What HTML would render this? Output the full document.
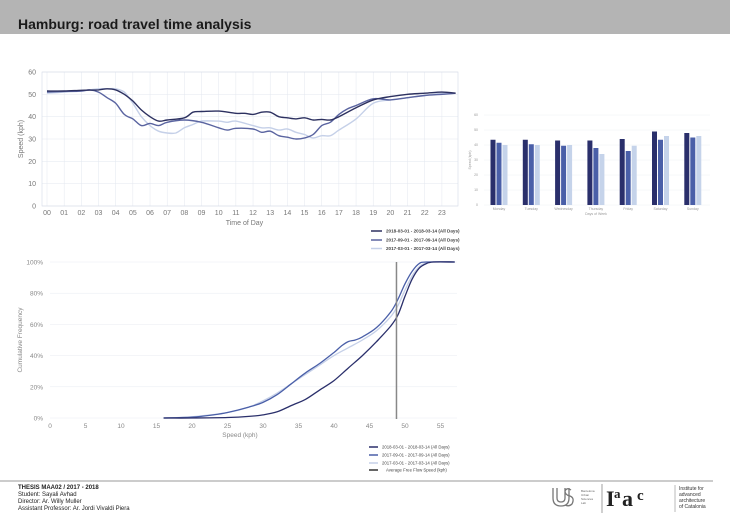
<!DOCTYPE html>
<html><head><meta charset="utf-8"><style>
html,body{margin:0;padding:0;background:#fff;}
svg{display:block;font-family:"Liberation Sans",sans-serif;}
</style></head><body>
<svg id="s" width="730" height="516" viewBox="0 0 730 516" xmlns="http://www.w3.org/2000/svg">
<rect x="0" y="0" width="730" height="34" fill="#b4b4b4"/>
<text x="18" y="29" font-size="14" font-weight="bold" fill="#1a1a1a">Hamburg: road travel time analysis</text>
<g id="top"></g>
<g id="bar"></g>
<g id="cum"></g>
<!-- top legend -->
<g font-size="4.6" font-weight="bold" fill="#444">
<line x1="371" y1="231" x2="382" y2="231" stroke="#2d3160" stroke-width="1.5"/><text x="386" y="232.5">2018-03-01 - 2018-03-14 (All Days)</text>
<line x1="371" y1="240" x2="382" y2="240" stroke="#5a64a0" stroke-width="1.5"/><text x="386" y="241.5">2017-09-01 - 2017-09-14 (All Days)</text>
<line x1="371" y1="248.5" x2="382" y2="248.5" stroke="#c5d0e8" stroke-width="1.5"/><text x="386" y="250">2017-03-01 - 2017-03-14 (All Days)</text>
</g>
<!-- bottom legend -->
<g font-size="4.3" fill="#444">
<line x1="369" y1="447" x2="378" y2="447" stroke="#2a2f6b" stroke-width="1.5"/><text x="382" y="448.5">2018-03-01 - 2018-03-14 (All Days)</text>
<line x1="369" y1="455" x2="378" y2="455" stroke="#4a5fa8" stroke-width="1.5"/><text x="382" y="456.5">2017-09-01 - 2017-09-14 (All Days)</text>
<line x1="369" y1="463" x2="378" y2="463" stroke="#c5d0e8" stroke-width="1.5"/><text x="382" y="464.5">2017-03-01 - 2017-03-14 (All Days)</text>
<line x1="369" y1="470" x2="378" y2="470" stroke="#333" stroke-width="1.5"/><text x="386" y="471.5">Average Free Flow Speed (kph)</text>
</g>
<line x1="0" y1="481" x2="713" y2="481" stroke="#999" stroke-width="1"/>
<g font-size="6" fill="#222">
<text x="18" y="489" font-weight="bold">THESIS MAA02 / 2017 - 2018</text>
<text x="18" y="496">Student: Sayali Avhad</text>
<text x="18" y="503">Director: Ar. Willy Muller</text>
<text x="18" y="510">Assistant Professor: Ar. Jordi Vivaldi Piera</text>
</g>
<!-- logos -->
<g>
<path d="M553 488 v10 q0 8 8 8 q8 0 8 -8 v-10 M557 488 v10 q0 4 4 4 q4 0 4 -4 v-10 M571 490 q-4 -3 -6 1 q0 4 5 5 q5 2 2 8 q-3 3 -7 1" fill="none" stroke="#777" stroke-width="1.3"/>
<g font-size="3" fill="#666"><text x="581" y="492">Barcelona</text><text x="581" y="496">Urban</text><text x="581" y="500">Sciences</text><text x="581" y="504">Lab</text></g>
<line x1="602" y1="484" x2="602" y2="513" stroke="#777" stroke-width="0.7"/>
<text x="606" y="506" font-family="Liberation Serif,serif" font-size="22" font-weight="bold" fill="#222">I</text>
<text x="614" y="498" font-family="Liberation Serif,serif" font-size="13" font-weight="bold" fill="#222">a</text>
<text x="622" y="506" font-family="Liberation Serif,serif" font-size="22" font-weight="bold" fill="#222">a</text>
<text x="637" y="500" font-family="Liberation Serif,serif" font-size="15" font-weight="bold" fill="#222">c</text>
<line x1="675" y1="485" x2="675" y2="512" stroke="#777" stroke-width="0.5"/>
<g font-size="5" fill="#333"><text x="679" y="490">Institute for</text><text x="679" y="496">advanced</text><text x="679" y="502">architecture</text><text x="679" y="508">of Catalonia</text></g>
</g>
</svg>
<script>
const NS="http://www.w3.org/2000/svg";
function el(p,t,a,txt){const e=document.createElementNS(NS,t);for(const k in a)e.setAttribute(k,a[k]);if(txt!==undefined)e.textContent=txt;p.appendChild(e);return e;}
function smooth(pts){let d="M"+pts[0][0].toFixed(1)+" "+pts[0][1].toFixed(1);for(let i=0;i<pts.length-1;i++){const p0=pts[Math.max(0,i-1)],p1=pts[i],p2=pts[i+1],p3=pts[Math.min(pts.length-1,i+2)];const c1=[p1[0]+(p2[0]-p0[0])/6,p1[1]+(p2[1]-p0[1])/6],c2=[p2[0]-(p3[0]-p1[0])/6,p2[1]-(p3[1]-p1[1])/6];d+=" C"+c1[0].toFixed(1)+" "+c1[1].toFixed(1)+" "+c2[0].toFixed(1)+" "+c2[1].toFixed(1)+" "+p2[0].toFixed(1)+" "+p2[1].toFixed(1);}return d;}
// TOP
const T=document.getElementById("top");
const tx=h=>47+17.17*h, ty=v=>206-v*2.233;
for(let h=0;h<=23;h++){el(T,"line",{x1:tx(h),y1:72,x2:tx(h),y2:206,stroke:"#e3e7ef","stroke-width":0.5});el(T,"text",{x:tx(h),y:215,"font-size":7,fill:"#777","text-anchor":"middle"},(h<10?"0":"")+h);}
for(let v=0;v<=60;v+=10){el(T,"line",{x1:42,y1:ty(v),x2:458,y2:ty(v),stroke:"#e3e7ef","stroke-width":0.5});el(T,"text",{x:36,y:ty(v)+2.5,"font-size":7,fill:"#777","text-anchor":"end"},v);}
el(T,"rect",{x:42,y:72,width:416,height:134,fill:"none",stroke:"#d5dbe8","stroke-width":0.6});
el(T,"text",{x:tx(11.5),y:225,"font-size":7,fill:"#777","text-anchor":"middle"},"Time of Day");
el(T,"text",{x:0,y:0,"font-size":7,fill:"#777","text-anchor":"middle",transform:"translate(23,139) rotate(-90)"},"Speed (kph)");
const L=[[0,50.5],[1,51],[2,51.5],[3,52.5],[3.5,52.5],[4,52.5],[4.5,51],[5,46],[5.5,40],[6,36],[6.5,33.5],[7,32.7],[7.5,32.7],[8,35],[8.5,36.5],[9,38],[10,38],[10.5,37.5],[11,38],[12,36],[12.5,35],[13,35],[13.5,34],[14,34.5],[14.5,33],[15,32],[15.5,30.5],[16,31.5],[16.5,31.5],[17,34],[18,39],[19,46],[20,47.5],[21,48.5],[22,49.5],[23,50.5],[23.8,50.5]];
const M=[[0,51],[1,51.3],[2,51.5],[2.5,52],[3,51],[3.5,48.5],[4,46],[4.5,41],[5,39],[5.5,36],[6,37],[6.5,36],[7,37.5],[8,38.5],[9,37.5],[10,35],[10.5,34],[11,34.8],[12,34.5],[12.5,33],[13,33.5],[13.5,31.5],[14,30.8],[14.5,30],[15,30.5],[15.5,32],[16,36],[16.5,37.5],[17,41],[17.5,43.5],[18,45],[19,48],[20,47.5],[21,48.5],[22,49.5],[23,50],[23.8,50.5]];
const D=[[0,51.5],[1,51.5],[2,51.8],[3,52],[3.5,52.5],[4,52],[4.5,50],[5,47],[5.5,43],[6,40],[6.5,38],[7,38.5],[8,39.5],[8.5,42],[9,42.3],[10,42.5],[11,41.5],[11.5,41.5],[12,41],[12.5,42],[13,42],[13.5,40],[14,39.5],[14.5,39],[15,39.5],[15.5,38.5],[16,38.8],[16.5,38.5],[17,40],[18,44],[19,47.5],[20,49],[21,50],[22,50.5],[23,51],[23.8,50.5]];
[[L,"#c5d0e8"],[M,"#5a64a0"],[D,"#2d3160"]].forEach(([s,c])=>el(T,"path",{d:smooth(s.map(p=>[tx(p[0]),ty(p[1])])),fill:"none",stroke:c,"stroke-width":1.4}));
// BAR
const B=document.getElementById("bar");
const by=v=>205-v*1.5;
for(let v=0;v<=60;v+=10){el(B,"line",{x1:484,y1:by(v),x2:710,y2:by(v),stroke:"#eef0f5","stroke-width":0.5});el(B,"text",{x:478,y:by(v)+1.2,"font-size":3.5,fill:"#999","text-anchor":"end"},v);}
el(B,"text",{x:0,y:0,"font-size":3.5,fill:"#999","text-anchor":"middle",transform:"translate(471,160) rotate(-90)"},"Speed (kph)");
const days=["Monday","Tuesday","Wednesday","Thursday","Friday","Saturday","Sunday"];
const vals=[[43.5,41.5,40],[43.5,40.5,40],[43,39.5,40],[43,38,34],[44,36,39.5],[49,43.5,46],[48,45,46]];
const bc=["#2a2f6b","#4a5fa8","#c5d3ea"];
days.forEach((d,i)=>{const cx=499+32.3*i;vals[i].forEach((v,j)=>el(B,"rect",{x:cx-8.5+j*6,y:by(v),width:5,height:v*1.5,fill:bc[j]}));el(B,"text",{x:cx,y:210,"font-size":3.5,fill:"#999","text-anchor":"middle"},d);});
el(B,"text",{x:596,y:215,"font-size":3.5,fill:"#999","text-anchor":"middle"},"Days of Week");
// CUM
const C=document.getElementById("cum");
const cx=v=>50+v*7.1, cy=p=>418-p*1.56;
for(let p=0;p<=100;p+=20){el(C,"line",{x1:50,y1:cy(p),x2:457,y2:cy(p),stroke:"#e8ebf2","stroke-width":0.5});el(C,"text",{x:43,y:cy(p)+2.5,"font-size":6.5,fill:"#888","text-anchor":"end"},p+"%");}
for(let v=0;v<=55;v+=5)el(C,"text",{x:cx(v),y:428,"font-size":6.5,fill:"#888","text-anchor":"middle"},v);
el(C,"text",{x:240,y:437,"font-size":6.5,fill:"#888","text-anchor":"middle"},"Speed (kph)");
el(C,"text",{x:0,y:0,"font-size":6.5,fill:"#888","text-anchor":"middle",transform:"translate(22,340) rotate(-90)"},"Cumulative Frequency");
const cd=[[16,0],[20,0],[25,0.3],[28,1],[30,2],[32,4],[34,8],[36,12],[38,18],[40,24],[42,32],[44,40],[46,49],[48,59],[49,66],[50,78],[51,89],[52,96],[53,99],[54,100],[57,100]];
const cm=[[16,0],[20,0.5],[23,2],[25,3.5],[28,7],[30,10],[32,15],[34,22],[36,29],[38,35],[40,42],[41,46],[42,49],[43,50],[44,52],[46,58],[48,68],[49,76],[50,86],[51,94],[52,99],[53,100],[57,100]];
const cl=[[16,0],[20,0.8],[25,3.5],[28,7],[30,11],[32,16],[34,22],[36,28],[38,34],[40,40],[42,45],[44,50],[46,56],[48,65],[49,72],[50,82],[51,91],[52,97],[53,99.5],[54,100],[57,100]];
[[cl,"#c5d0e8"],[cm,"#4a5fa8"],[cd,"#2a2f6b"]].forEach(([s,c])=>el(C,"path",{d:smooth(s.map(p=>[cx(p[0]),cy(p[1])])),fill:"none",stroke:c,"stroke-width":1.3}));
el(C,"line",{x1:cx(48.8),y1:262,x2:cx(48.8),y2:419,stroke:"#888","stroke-width":1.5});
</script>
</body></html>
